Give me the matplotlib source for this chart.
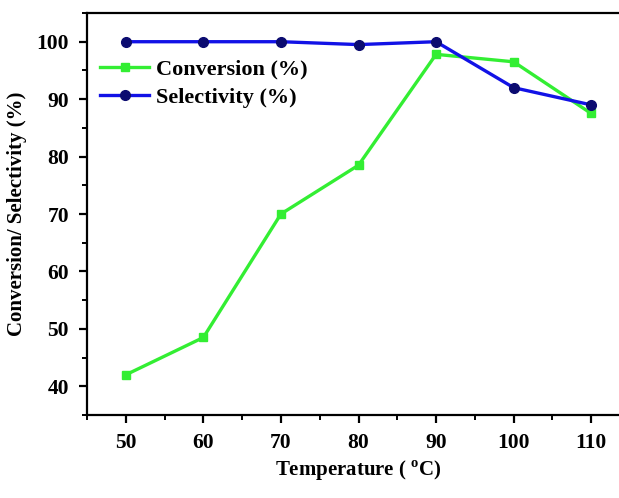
import matplotlib
matplotlib.use("Agg")
import matplotlib.pyplot as plt
from matplotlib.ticker import MultipleLocator

# data
temperature = [50, 60, 70, 80, 90, 100, 110]
conversion = [42.0, 48.5, 70.0, 78.5, 97.8, 96.5, 87.5]
selectivity = [100.0, 100.0, 100.0, 99.5, 100.0, 92.0, 89.0]

plt.rcParams["font.family"] = ["Liberation Serif", "DejaVu Serif"]
plt.rcParams["font.weight"] = "bold"
plt.rcParams["mathtext.fontset"] = "custom"
plt.rcParams["mathtext.rm"] = "Liberation Serif:bold"
plt.rcParams["mathtext.bf"] = "Liberation Serif:bold"

W, H = 619, 498
fig = plt.figure(figsize=(W / 100, H / 100), dpi=100)
# axes runs past the right edge, as in the cropped original
left, right, top, bottom = 87, 630, 13, 415
ax = fig.add_axes([left / W, 1 - bottom / H, (right - left) / W, (bottom - top) / H])

ax.plot(temperature, conversion, color="#33ee33", linewidth=2.4,
        marker="s", markersize=6, markerfacecolor="#33ee33", markeredgecolor="#33ee33",
        label="Conversion (%)")
ax.plot(temperature, selectivity, color="#1212e6", linewidth=2.4,
        marker="o", markersize=7, markerfacecolor="#0b0b70", markeredgecolor="#0b0b70",
        label="Selectivity (%)")

ax.set_xlim(45, 115)
ax.set_ylim(35, 105)
ax.xaxis.set_major_locator(MultipleLocator(10))
ax.xaxis.set_minor_locator(MultipleLocator(5))
ax.yaxis.set_major_locator(MultipleLocator(10))
ax.yaxis.set_minor_locator(MultipleLocator(5))
ax.tick_params(which="major", direction="out", length=6, width=1.6, labelsize=15.5, pad=7)
ax.tick_params(which="minor", direction="out", length=3.5, width=1.4)
for s in ax.spines.values():
    s.set_linewidth(1.6)

ax.set_xlabel(r"Temperature ( $^{\rm o}$C)", fontsize=15, fontweight="bold", labelpad=4)
ax.set_ylabel("Conversion/ Selectivity (%)", fontsize=15, fontweight="bold", labelpad=7)

ax.legend(loc="upper left", bbox_to_anchor=(-0.012, 0.935), frameon=False,
          numpoints=1, handlelength=2.2, handletextpad=0.28, labelspacing=0.35,
          prop={"family": "Liberation Serif", "weight": "bold", "size": 16})

fig.savefig("out.png", dpi=100)
